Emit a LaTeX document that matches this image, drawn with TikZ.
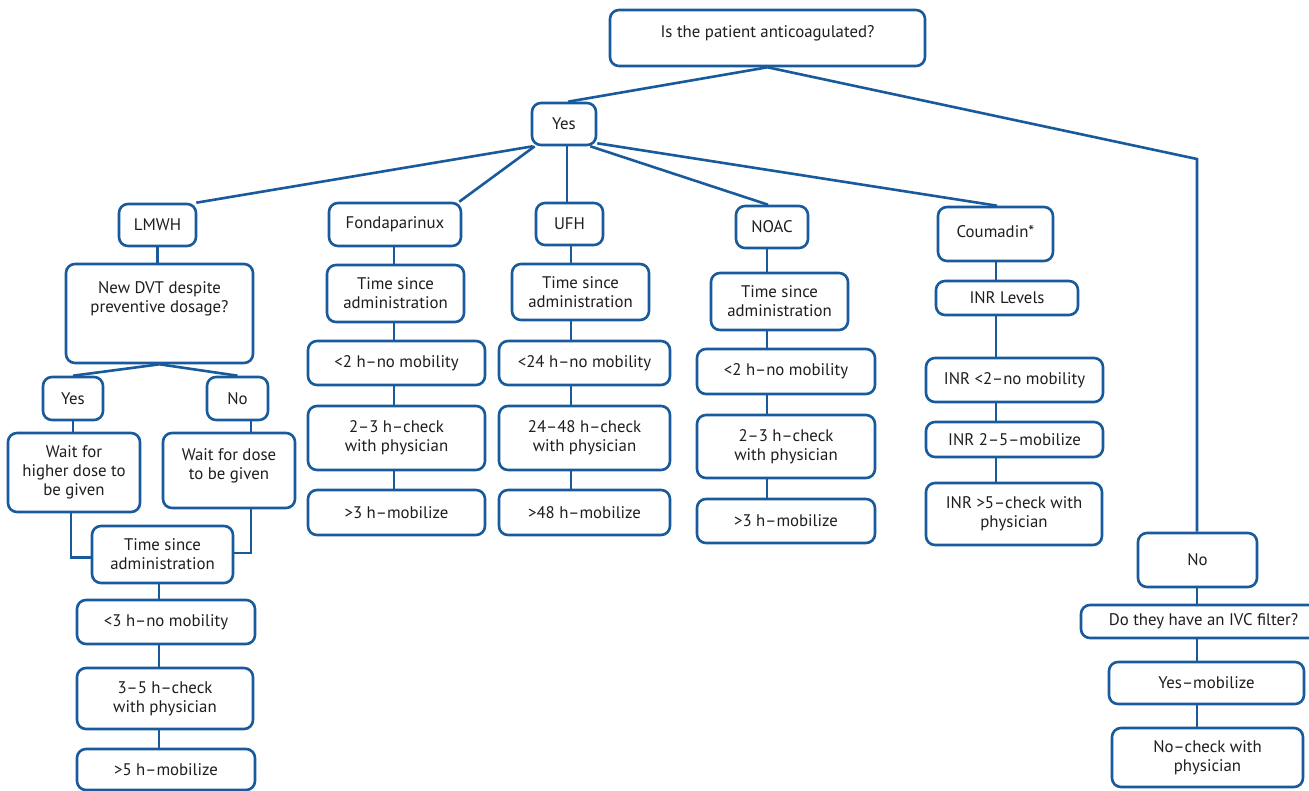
\documentclass[tikz,border=0pt]{standalone}
\usepackage{fontspec}
\setmainfont{PT Sans}
\definecolor{lineblue}{RGB}{24,90,155}
\definecolor{txt}{RGB}{30,30,30}
\tikzset{
  boxfont/.style={font=\fontsize{16.8}{18.8}\selectfont},
  box/.style={draw=lineblue, line width=2.6pt, rounded corners=9pt, align=center,
    inner sep=0pt, text=txt, boxfont},
  conn/.style={draw=lineblue, line width=2.6pt}
}
\begin{document}
\begin{tikzpicture}[x=1pt,y=-1pt]
\useasboundingbox[fill=white] (0,0) rectangle (1309,790);
% top
\node[box,minimum width=315,minimum height=56,label={[yshift=4.5pt,text=txt,boxfont]center:Is the patient anticoagulated?}] (q) at (767.5,38) {};
\node[box,minimum width=64,minimum height=42] (yes) at (564,124) {Yes};
% second level
\node[box,minimum width=77,minimum height=42] (lmwh) at (157.5,225) {LMWH};
\node[box,minimum width=132,minimum height=43] (fonda) at (395,224.5) {Fondaparinux};
\node[box,minimum width=67,minimum height=42] (ufh) at (569.5,224) {UFH};
\node[box,minimum width=72,minimum height=42] (noac) at (772,227) {NOAC};
\node[box,minimum width=115,minimum height=54,label={[yshift=2pt,text=txt,boxfont]center:Coumadin*}] (coum) at (995.5,234) {};
% LMWH branch
\node[box,minimum width=187,minimum height=99,label={[yshift=14.5pt,align=center,text=txt,boxfont]center:New DVT despite\\preventive dosage?}] (dvt) at (159.5,313.5) {};
\node[box,minimum width=60,minimum height=43] (ly) at (73,398.5) {Yes};
\node[box,minimum width=61,minimum height=43] (ln) at (237.5,398.5) {No};
\node[box,minimum width=132,minimum height=79] (wh) at (74,472.5) {Wait for\\higher dose to\\be given};
\node[box,minimum width=132,minimum height=75,label={[yshift=5pt,align=center,text=txt,boxfont]center:Wait for dose\\to be given}] (wd) at (229,470.5) {};
\node[box,minimum width=141,minimum height=57] (lt) at (162.5,554.5) {Time since\\administration};
\node[box,minimum width=178,minimum height=44] (l1) at (166,622) {<3 h–no mobility};
\node[box,minimum width=176,minimum height=61] (l2) at (165,698.5) {3–5 h–check\\with physician};
\node[box,minimum width=178,minimum height=41] (l3) at (166,769.5) {>5 h–mobilize};
% Fondaparinux
\node[box,minimum width=137,minimum height=57] (ft) at (395.5,293.5) {Time since\\administration};
\node[box,minimum width=177,minimum height=44] (f1) at (396.5,363) {<2 h–no mobility};
\node[box,minimum width=177,minimum height=64] (f2) at (396.5,438) {2–3 h–check\\with physician};
\node[box,minimum width=177,minimum height=45] (f3) at (396.5,512.5) {>3 h–mobilize};
% UFH
\node[box,minimum width=137,minimum height=56] (ut) at (580.5,292) {Time since\\administration};
\node[box,minimum width=171,minimum height=44] (u1) at (584.5,363) {<24 h–no mobility};
\node[box,minimum width=171,minimum height=64] (u2) at (584.5,438) {24–48 h–check\\with physician};
\node[box,minimum width=171,minimum height=45] (u3) at (584.5,512.5) {>48 h–mobilize};
% NOAC
\node[box,minimum width=137,minimum height=57] (nt) at (779.5,301.5) {Time since\\administration};
\node[box,minimum width=178,minimum height=45] (n1) at (786,371.5) {<2 h–no mobility};
\node[box,minimum width=178,minimum height=63] (n2) at (786,446.5) {2–3 h–check\\with physician};
\node[box,minimum width=178,minimum height=44] (n3) at (786,521) {>3 h–mobilize};
% Coumadin
\node[box,minimum width=142,minimum height=34] (ci) at (1007,298) {INR Levels};
\node[box,minimum width=177,minimum height=44] (c1) at (1014.5,380) {INR <2–no mobility};
\node[box,minimum width=177,minimum height=35] (c2) at (1014.5,439.5) {INR 2–5–mobilize};
\node[box,minimum width=176,minimum height=62] (c3) at (1014,514) {INR >5–check with\\physician};
% No branch
\node[box,minimum width=119,minimum height=54] (no) at (1197.5,560) {No};
\node[box,minimum width=245,minimum height=33] (ivc) at (1203.5,621.5) {Do they have an IVC filter?};
\node[box,minimum width=195,minimum height=42] (ym) at (1206.5,683) {Yes–mobilize};
\node[box,minimum width=191,minimum height=59] (nc) at (1207.5,757.5) {No–check with\\physician};
% column coordinates
\coordinate (cL) at (159,0);
\coordinate (cF) at (394,0);
\coordinate (cU) at (571,0);
\coordinate (cN) at (767,0);
\coordinate (cC) at (996,0);
\coordinate (cR) at (1197,0);
\coordinate (bend) at (1197,159);
% connectors
\draw[conn] (q.south) -- ([xshift=4pt]yes.north);
\draw[conn] (q.south) -- (bend) -- (no.north -| cR);
\draw[conn] ([xshift=2pt]yes.south west) -- ([xshift=-1pt]lmwh.north east);
\draw[conn] ([xshift=4pt]yes.south west) -- ([xshift=-3pt]fonda.north east);
\draw[conn] ([xshift=3pt]yes.south) -- ([xshift=3pt]yes.south |- ufh.north);
\draw[conn] ([xshift=-7pt]yes.south east) -- ([xshift=-4pt]noac.north);
\draw[conn] ([yshift=3pt]yes.south east) -- ([xshift=1.5pt]coum.north);
\draw[conn] (lmwh.south) -- (lmwh.south |- dvt.north);
\draw[conn] (dvt.south) -- (ly.north);
\draw[conn] (dvt.south) -- (ln.north);
\draw[conn] (ly.south) -- (ly.south |- wh.north);
\draw[conn] ([xshift=13.5pt]ln.south) -- ([xshift=13.5pt]ln.south |- wd.north);
\draw[conn] ([xshift=-3pt]wh.south) |- ([yshift=-3pt]lt.west);
\draw[conn] ([xshift=22pt]wd.south) |- ([yshift=1.5pt]lt.east);
\draw[conn] (lt.south -| cL) -- (l1.north -| cL);
\draw[conn] (l1.south -| cL) -- (l2.north -| cL);
\draw[conn] (l2.south -| cL) -- (l3.north -| cL);
\draw[conn] (fonda.south -| cF) -- (ft.north -| cF);
\draw[conn] (ft.south -| cF) -- (f1.north -| cF);
\draw[conn] (f1.south -| cF) -- (f2.north -| cF);
\draw[conn] (f2.south -| cF) -- (f3.north -| cF);
\draw[conn] (ufh.south -| cU) -- (ut.north -| cU);
\draw[conn] (ut.south -| cU) -- (u1.north -| cU);
\draw[conn] (u1.south -| cU) -- (u2.north -| cU);
\draw[conn] (u2.south -| cU) -- (u3.north -| cU);
\draw[conn] (noac.south -| cN) -- (nt.north -| cN);
\draw[conn] (nt.south -| cN) -- (n1.north -| cN);
\draw[conn] (n1.south -| cN) -- (n2.north -| cN);
\draw[conn] (n2.south -| cN) -- (n3.north -| cN);
\draw[conn] (coum.south -| cC) -- (ci.north -| cC);
\draw[conn] (ci.south -| cC) -- (c1.north -| cC);
\draw[conn] (c1.south -| cC) -- (c2.north -| cC);
\draw[conn] (c2.south -| cC) -- (c3.north -| cC);
\draw[conn] (no.south -| cR) -- (ivc.north -| cR);
\draw[conn] (ivc.south -| cR) -- (ym.north -| cR);
\draw[conn] (ym.south -| cR) -- (nc.north -| cR);
\end{tikzpicture}
\end{document}
